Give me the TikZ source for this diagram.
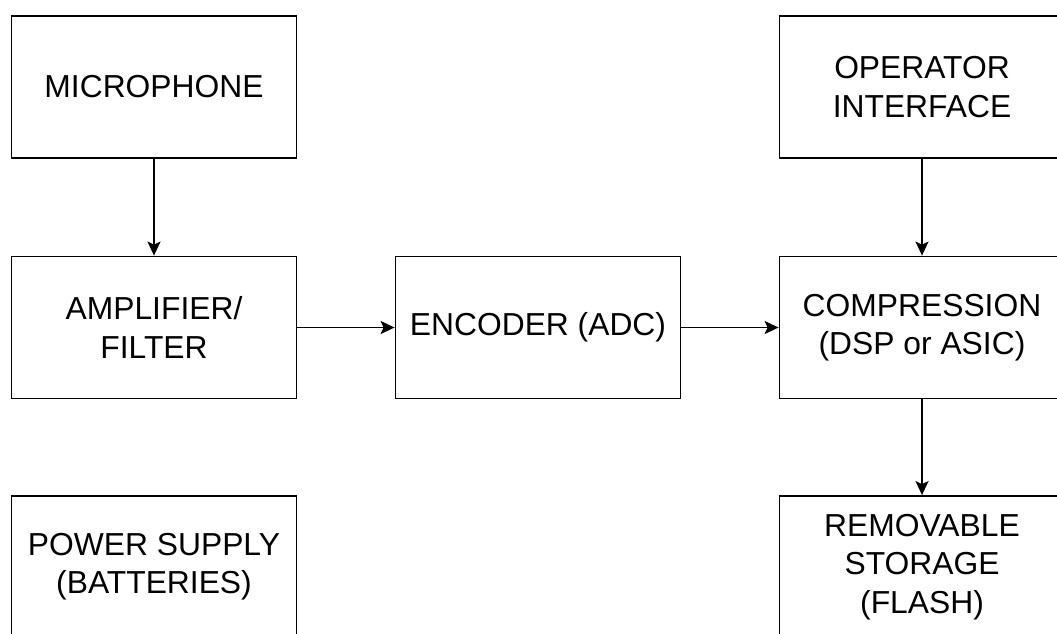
\documentclass[tikz,border=0pt]{standalone}
\usepackage{fontspec}
\setmainfont{Liberation Sans}
\usetikzlibrary{arrows.meta}
\begin{document}
\begin{tikzpicture}[x=1pt,y=-1pt,
  blk/.style={draw=black, line width=1.8pt, minimum width=285pt, minimum height=142pt,
    inner sep=0pt, align=center, font=\fontsize{31.8}{38.3}\selectfont},
  conn/.style={line width=1.8pt, -{Stealth[length=14pt,width=13pt,inset=3pt]}}]
\useasboundingbox (0,0) rectangle (1057,633);
\clip (0,0) rectangle (1057,633);
\node[blk] (mic) at (154,87) {MICROPHONE};
\node[blk] (op) at (922,87) {OPERATOR\\INTERFACE};
\node[blk] (amp) at (154,327.5) {AMPLIFIER/\\FILTER};
\node[blk] (enc) at (538,327.5) {ENCODER (ADC)};
\node[blk] (comp) at (922,327.5) {COMPRESSION\\(DSP or ASIC)};
\node[blk] (pow) at (154,567) {POWER SUPPLY\\(BATTERIES)};
\node[blk] (rem) at (922,567) {REMOVABLE\\STORAGE\\(FLASH)};
\draw[conn] (mic) -- (amp);
\draw[conn] (op) -- (comp);
\draw[conn] (amp) -- (enc);
\draw[conn] (enc) -- (comp);
\draw[conn] (comp) -- (rem);
\end{tikzpicture}
\end{document}
